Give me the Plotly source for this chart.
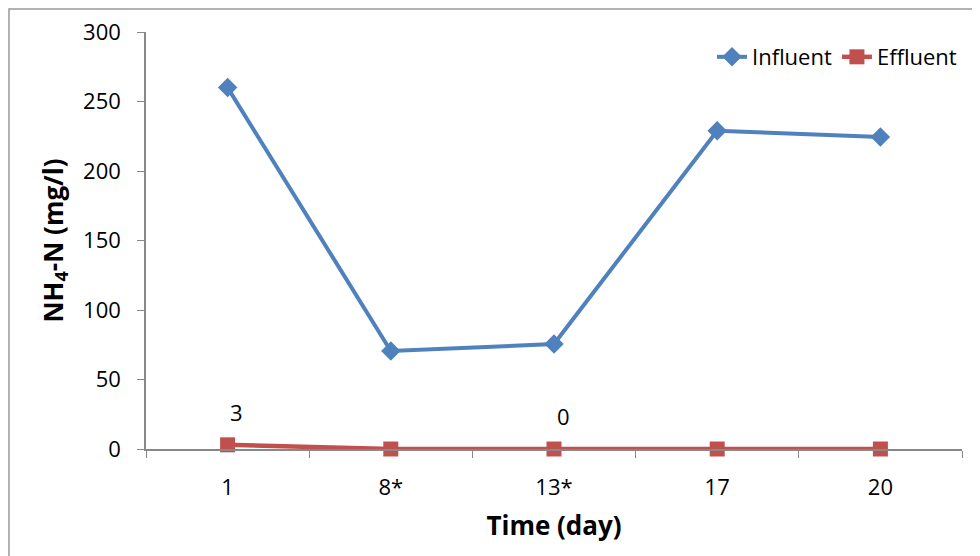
import plotly.graph_objects as go

categories = ["1", "8*", "13*", "17", "20"]
influent = [260, 70.5, 75.5, 229, 224.5]
effluent = [3, 0, 0, 0, 0]
effluent_labels = ["3", "", "0", "", ""]

FONT = "Open Sans, Liberation Sans, sans-serif"

L, R, T, B = 138, 18, 24, 107
PW, PH = 816, 417

fig = go.Figure()
fig.add_trace(go.Scatter(x=categories, y=influent, name="Influent", mode="lines+markers",
                         line=dict(color="#4F81BD", width=4), cliponaxis=False,
                         marker=dict(symbol="diamond", size=15, color="#4F81BD")))
fig.add_trace(go.Scatter(x=categories, y=effluent, name="Effluent", mode="lines+markers",
                         line=dict(color="#C0504D", width=4.5), cliponaxis=False,
                         marker=dict(symbol="square", size=15, color="#C0504D")))

for i, (v, t) in enumerate(zip(effluent, effluent_labels)):
    if t:
        fig.add_annotation(x=i, y=v, text=t, showarrow=False, xshift=9, yshift=33,
                           font=dict(family=FONT, size=22, color="black"))

fig.update_layout(
    width=L + PW + R, height=T + PH + B,
    margin=dict(l=L, r=R, t=T, b=B, autoexpand=False),
    paper_bgcolor="white", plot_bgcolor="white",
    font=dict(family=FONT, size=22, color="black"),
    showlegend=True,
    legend=dict(orientation="h", x=1.0, xanchor="right", y=0.94, yanchor="middle",
                font=dict(family=FONT, size=22), bgcolor="rgba(0,0,0,0)"),
    xaxis=dict(type="category", showline=True, linecolor="#888888", linewidth=1.5,
               ticks="outside", tickcolor="#888888", ticklen=7, tickson="boundaries",
               ticklabelstandoff=18, automargin=False,
               showgrid=False, zeroline=False, range=[-0.5, 4.5],
               title=dict(text="<b>Time (day)</b>", font=dict(family=FONT, size=26), standoff=17)),
    yaxis=dict(range=[0, 300], dtick=50, showline=True, linecolor="#888888", linewidth=1.5,
               ticks="outside", tickcolor="#888888", ticklen=7, showgrid=False, zeroline=False,
               ticklabelstandoff=12, automargin=False,
               title=dict(text="<b>NH<sub>4</sub>-N (mg/l)</b>", font=dict(family=FONT, size=26), standoff=12)),
)

fig.add_shape(type="rect", xref="paper", yref="paper",
              x0=(-L + 1) / PW, x1=(PW + R + 20) / PW,
              y0=(-B - 20) / PH, y1=(PH + T - 1) / PH,
              line=dict(color="#999999", width=1.5), fillcolor="rgba(0,0,0,0)", layer="below")

fig.write_html("out.html")
